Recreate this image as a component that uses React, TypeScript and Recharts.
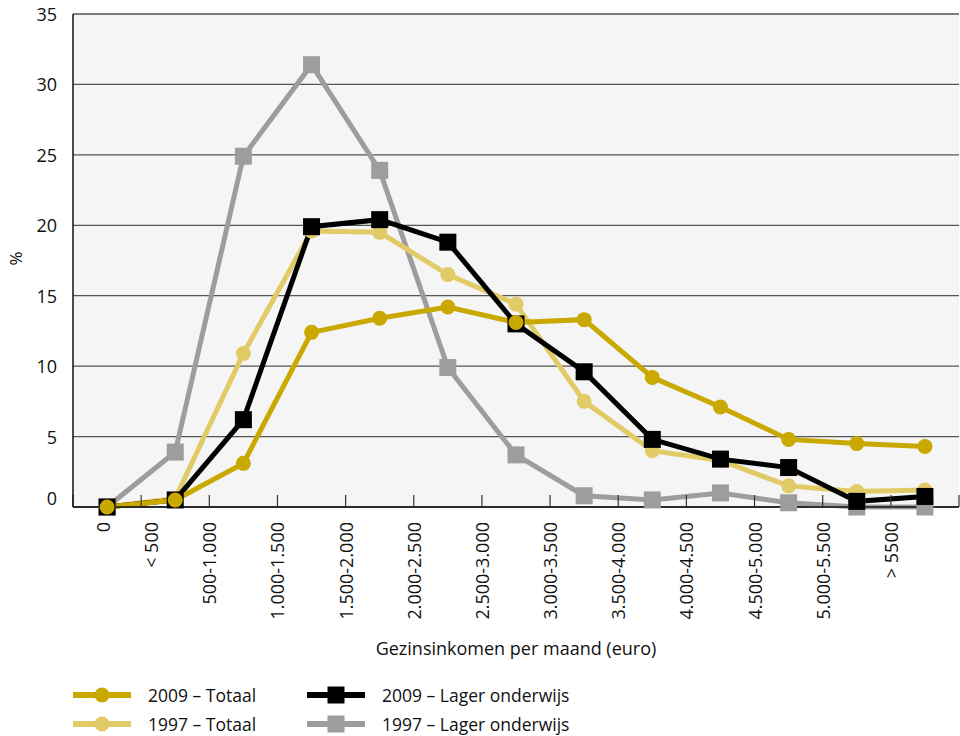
import React from 'react';
import { LineChart, Line, XAxis, YAxis, CartesianGrid, Label } from 'recharts';

const incomeCategories = [
  '0', '< 500', '500-1.000', '1.000-1.500', '1.500-2.000', '2.000-2.500', '2.500-3.000',
  '3.000-3.500', '3.500-4.000', '4.000-4.500', '4.500-5.000', '5.000-5.500', '> 5500',
];
const totaal2009 = [0, 0.5, 3.1, 12.4, 13.4, 14.2, 13.1, 13.3, 9.2, 7.1, 4.8, 4.5, 4.3];
const totaal1997 = [0, 0.6, 10.9, 19.6, 19.5, 16.5, 14.4, 7.5, 4.0, 3.3, 1.5, 1.1, 1.2];
const lager2009 = [0, 0.5, 6.2, 19.9, 20.4, 18.8, 13.0, 9.6, 4.8, 3.4, 2.8, 0.4, 0.75];
const lager1997 = [0, 3.9, 24.9, 31.4, 23.9, 9.9, 3.7, 0.8, 0.5, 1.0, 0.3, 0, 0];
const yTicks = [0, 5, 10, 15, 20, 25, 30, 35];

const FONT = '"Open Sans", sans-serif';
const TEXT = '#111111';

const series = [
  { key: 'lager1997', name: '1997 – Lager onderwijs', values: lager1997, color: '#9d9d9d', marker: 'square' },
  { key: 'totaal1997', name: '1997 – Totaal', values: totaal1997, color: '#e1cb66', marker: 'circle' },
  { key: 'lager2009', name: '2009 – Lager onderwijs', values: lager2009, color: '#000000', marker: 'square' },
  { key: 'totaal2009', name: '2009 – Totaal', values: totaal2009, color: '#c9a800', marker: 'circle' },
];

const data = incomeCategories.map((cat, i) => {
  const row: Record<string, number | string> = { idx: i, cat };
  series.forEach((s) => {
    row[s.key] = s.values[i];
  });
  return row;
});

// tick marks sit at category boundaries
const boundaryTicks = [...incomeCategories.map((_, i) => i - 0.5), incomeCategories.length - 0.5];

const XTick = (props: any) => {
  const { x, y, index } = props;
  const label = incomeCategories[index];
  if (!label) return null;
  const shift = index === 0 ? 30 : index === 1 ? 10 : 0;
  const tx = x + shift;
  return (
    <text
      x={tx}
      y={y}
      transform={`rotate(-90, ${tx}, ${y})`}
      textAnchor="end"
      dominantBaseline="central"
      fontFamily={FONT}
      fontSize={18}
      fill={TEXT}
    >
      {label}
    </text>
  );
};

const YTick = (props: any) => {
  const { x, y, payload } = props;
  const dy = payload.value === 0 ? -9 : 0;
  return (
    <text
      x={x}
      y={y + dy}
      textAnchor="end"
      dominantBaseline="central"
      fontFamily={FONT}
      fontSize={18}
      fill={TEXT}
    >
      {payload.value}
    </text>
  );
};

const makeSquareDot = (color: string) => (props: any) => {
  const { cx, cy, index } = props;
  if (cx == null || cy == null) return <g key={`sq-${index}`} />;
  return <rect key={`sq-${index}`} x={cx - 8.5} y={cy - 8.5} width={17} height={17} fill={color} />;
};

const makeCircleDot = (color: string) => (props: any) => {
  const { cx, cy, index } = props;
  if (cx == null || cy == null) return <g key={`ci-${index}`} />;
  return <circle key={`ci-${index}`} cx={cx} cy={cy} r={7.5} fill={color} />;
};

const legendOrder = [
  [series[3], series[2]],
  [series[1], series[0]],
];

const LegendSample = ({ color, marker }: { color: string; marker: string }) => (
  <svg width={60} height={20} style={{ display: 'block' }}>
    <line x1={0} y1={10} x2={58} y2={10} stroke={color} strokeWidth={6} />
    {marker === 'circle' ? (
      <circle cx={29} cy={10} r={7.5} fill={color} />
    ) : (
      <rect x={20.5} y={1.5} width={17} height={17} fill={color} />
    )}
  </svg>
);

export default function App() {
  return (
    <div style={{ position: 'absolute', left: 0, top: 0, width: 960, height: 736, background: '#ffffff', fontFamily: FONT }}>
      <LineChart
        width={960}
        height={736}
        data={data}
        margin={{ top: 14, right: 1, left: 0, bottom: 0 }}
      >
        <CartesianGrid vertical={false} stroke="#555" strokeWidth={1.3} fill="#f5f5f5" />
        <XAxis
          type="number"
          dataKey="idx"
          domain={[-0.5, incomeCategories.length - 0.5]}
          ticks={boundaryTicks}
          interval={0}
          height={229}
          tick={<XTick />}
          tickSize={-12}
          tickMargin={27}
          tickLine={{ stroke: '#333', strokeWidth: 1.2 }}
          axisLine={{ stroke: '#111', strokeWidth: 1.5 }}
        >
          <Label
            value="Gezinsinkomen per maand (euro)"
            position="insideBottom"
            offset={81}
            style={{ fontFamily: FONT, fontSize: 18, fill: TEXT }}
          />
        </XAxis>
        <YAxis
          domain={[0, 35]}
          ticks={yTicks}
          width={73}
          tickLine={false}
          tickMargin={10}
          tick={<YTick />}
          axisLine={{ stroke: '#111', strokeWidth: 1.5 }}
          interval={0}
        >
          <Label
            content={(p: any) => {
              const vb = p.viewBox || {};
              const lx = 15;
              const ly = (vb.y || 0) + (vb.height || 0) / 2 - 2;
              return (
                <text
                  x={lx}
                  y={ly}
                  transform={`rotate(-90, ${lx}, ${ly})`}
                  textAnchor="middle"
                  dominantBaseline="central"
                  fontFamily={FONT}
                  fontSize={17}
                  fill={TEXT}
                >
                  %
                </text>
              );
            }}
          />
        </YAxis>
        {series.map((s) => (
          <Line
            key={s.key}
            type="linear"
            dataKey={s.key}
            name={s.name}
            stroke={s.color}
            strokeWidth={5}
            dot={s.marker === 'circle' ? makeCircleDot(s.color) : makeSquareDot(s.color)}
            activeDot={false}
            isAnimationActive={false}
          />
        ))}
      </LineChart>
      {legendOrder.map((row, r) => (
        <div
          key={r}
          style={{ position: 'absolute', left: 73, top: 685 + r * 29, height: 20, display: 'flex', alignItems: 'center' }}
        >
          {row.map((s, c) => (
            <div key={s.key} style={{ display: 'flex', alignItems: 'center', width: c === 0 ? 234 : 300 }}>
              <LegendSample color={s.color} marker={s.marker} />
              <span style={{ marginLeft: 15, fontSize: 17.5, color: TEXT, whiteSpace: 'nowrap', lineHeight: '20px' }}>{s.name}</span>
            </div>
          ))}
        </div>
      ))}
    </div>
  );
}
